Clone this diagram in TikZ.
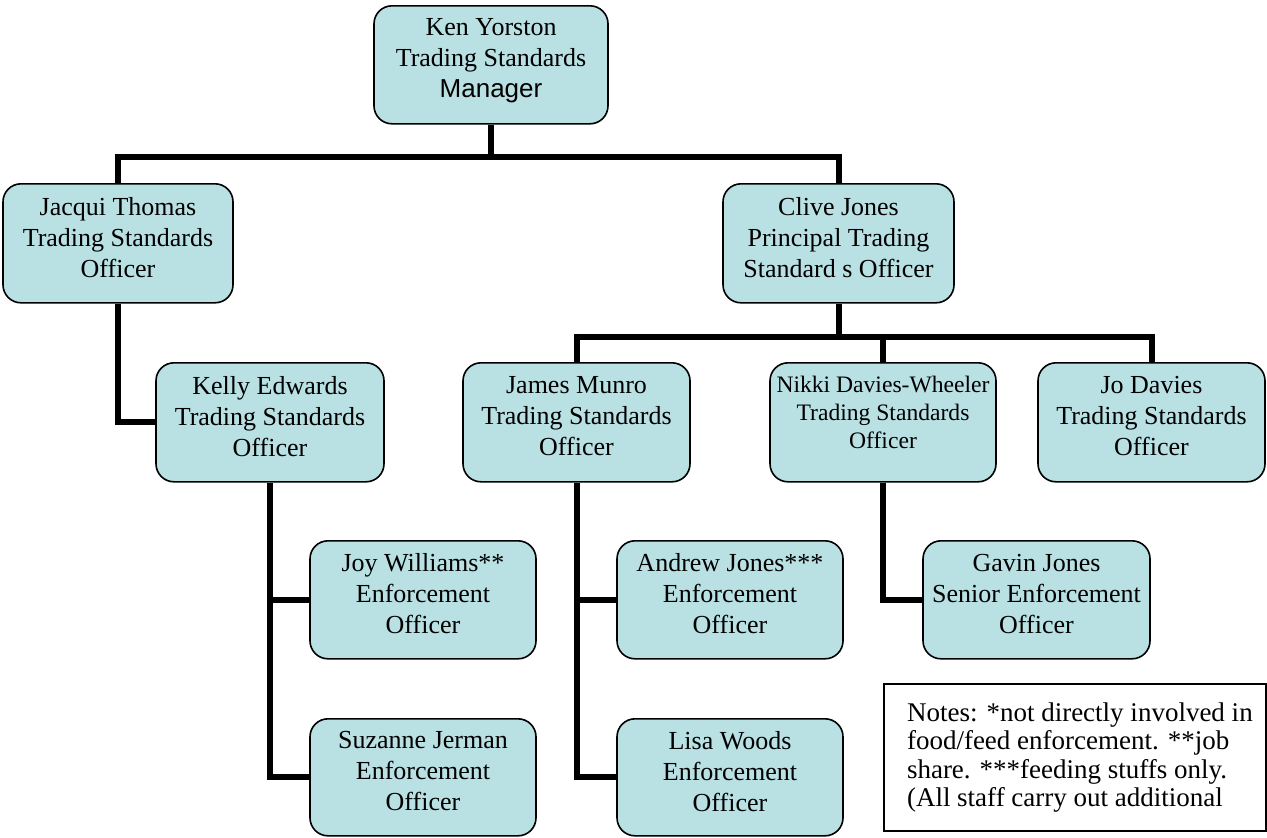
\documentclass[tikz,border=0pt]{standalone}
\usepackage{fontspec}
\setmainfont{Liberation Serif}
\newfontfamily\arialfont{Liberation Sans}
\usetikzlibrary{positioning}
\definecolor{boxfill}{RGB}{185,224,227}

% text block inside a staff box, top aligned
\newcommand{\cardtext}[1]{\parbox[c][46pt][t]{112pt}{\centering #1}}

\begin{document}
\begin{tikzpicture}[x=0.5pt,y=-0.5pt,
  staff/.style={draw=black, line width=0.8pt, fill=boxfill, rounded corners=9pt,
    inner sep=0pt, minimum width=113.5pt, minimum height=59pt, anchor=north,
    font=\fontsize{13pt}{15.5pt}\selectfont},
  link/.style={line width=3pt},
  notebox/.style={draw=black, line width=1pt, fill=white, inner sep=0pt, anchor=north west,
    minimum width=191pt, minimum height=73.5pt,
    font=\fontsize{13.5pt}{14.2pt}\selectfont}]
  \useasboundingbox (0,0) rectangle (1267,837);

  \coordinate (bus1) at (0,157);
  \coordinate (bus2) at (0,337);

  \path (491,5) node[staff, minimum width=117pt] (ken)
    {\cardtext{Ken Yorston\\Trading Standards\\{\arialfont Manager}}};
  \path (118,183) node[staff, minimum width=115pt, minimum height=59.5pt] (jacqui)
    {\cardtext{Jacqui Thomas\\Trading Standards\\Officer}};
  \path (838.5,183) node[staff, minimum width=115.5pt, minimum height=59.5pt] (clive)
    {\cardtext{Clive Jones\\Principal Trading\\Standard s Officer}};

  \path (270,362) node[staff, minimum width=114pt, minimum height=59.5pt] (kelly)
    {\cardtext{Kelly Edwards\\Trading Standards\\Officer}};
  \path (576.5,362) node[staff, minimum height=59.5pt] (james)
    {\cardtext{James Munro\\Trading Standards\\Officer}};
  \path (883,362) node[staff, minimum width=113pt, minimum height=59.5pt,
    font=\fontsize{11.8pt}{14pt}\selectfont] (nikki)
    {\cardtext{Nikki Davies-Wheeler\\Trading Standards\\Officer}};
  \path (1151.5,362) node[staff, minimum height=59.5pt] (jo)
    {\cardtext{Jo Davies\\Trading Standards\\Officer}};

  \path (423,540) node[staff, minimum width=113pt] (joy)
    {\cardtext{Joy Williams**\\Enforcement\\Officer}};
  \path (730,540) node[staff, minimum width=113pt] (andrew)
    {\cardtext{Andrew Jones***\\Enforcement\\Officer}};
  \path (1036.5,540) node[staff] (gavin)
    {\cardtext{Gavin Jones\\Senior Enforcement\\Officer}};

  \path (423,718) node[staff, minimum width=113pt, minimum height=58.5pt] (suzanne)
    {\cardtext{Suzanne Jerman\\Enforcement\\Officer}};
  \path (730,718) node[staff, minimum width=113pt, minimum height=58.5pt] (lisa)
    {\cardtext{Lisa Woods\\Enforcement\\Officer}};

  \node[notebox] (notes) at (883,683)
    {\hspace*{10pt}\parbox[c][55pt][t]{178pt}{\raggedright
      Notes: *not directly involved in\\
      food/feed enforcement. **job\\
      share. ***feeding stuffs only.\\
      (All staff carry out additional}};

  % lines
  \draw[link] (ken.south) -- (ken.south |- bus1);
  \draw[link] (jacqui.north) -- (jacqui.north |- bus1) -- (clive.north |- bus1) -- (clive.north);
  \draw[link] (jacqui.south) |- (kelly.west);
  \draw[link] (clive.south) -- (clive.south |- bus2);
  \draw[link] (james.north) -- (james.north |- bus2) -- (jo.north |- bus2) -- (jo.north);
  \draw[link] (nikki.north) -- (nikki.north |- bus2);
  \draw[link] (kelly.south) |- (suzanne.west);
  \draw[link] (kelly.south |- joy.west) -- (joy.west);
  \draw[link] (james.south) |- (lisa.west);
  \draw[link] (james.south |- andrew.west) -- (andrew.west);
  \draw[link] (nikki.south) |- (gavin.west);
\end{tikzpicture}
\end{document}
